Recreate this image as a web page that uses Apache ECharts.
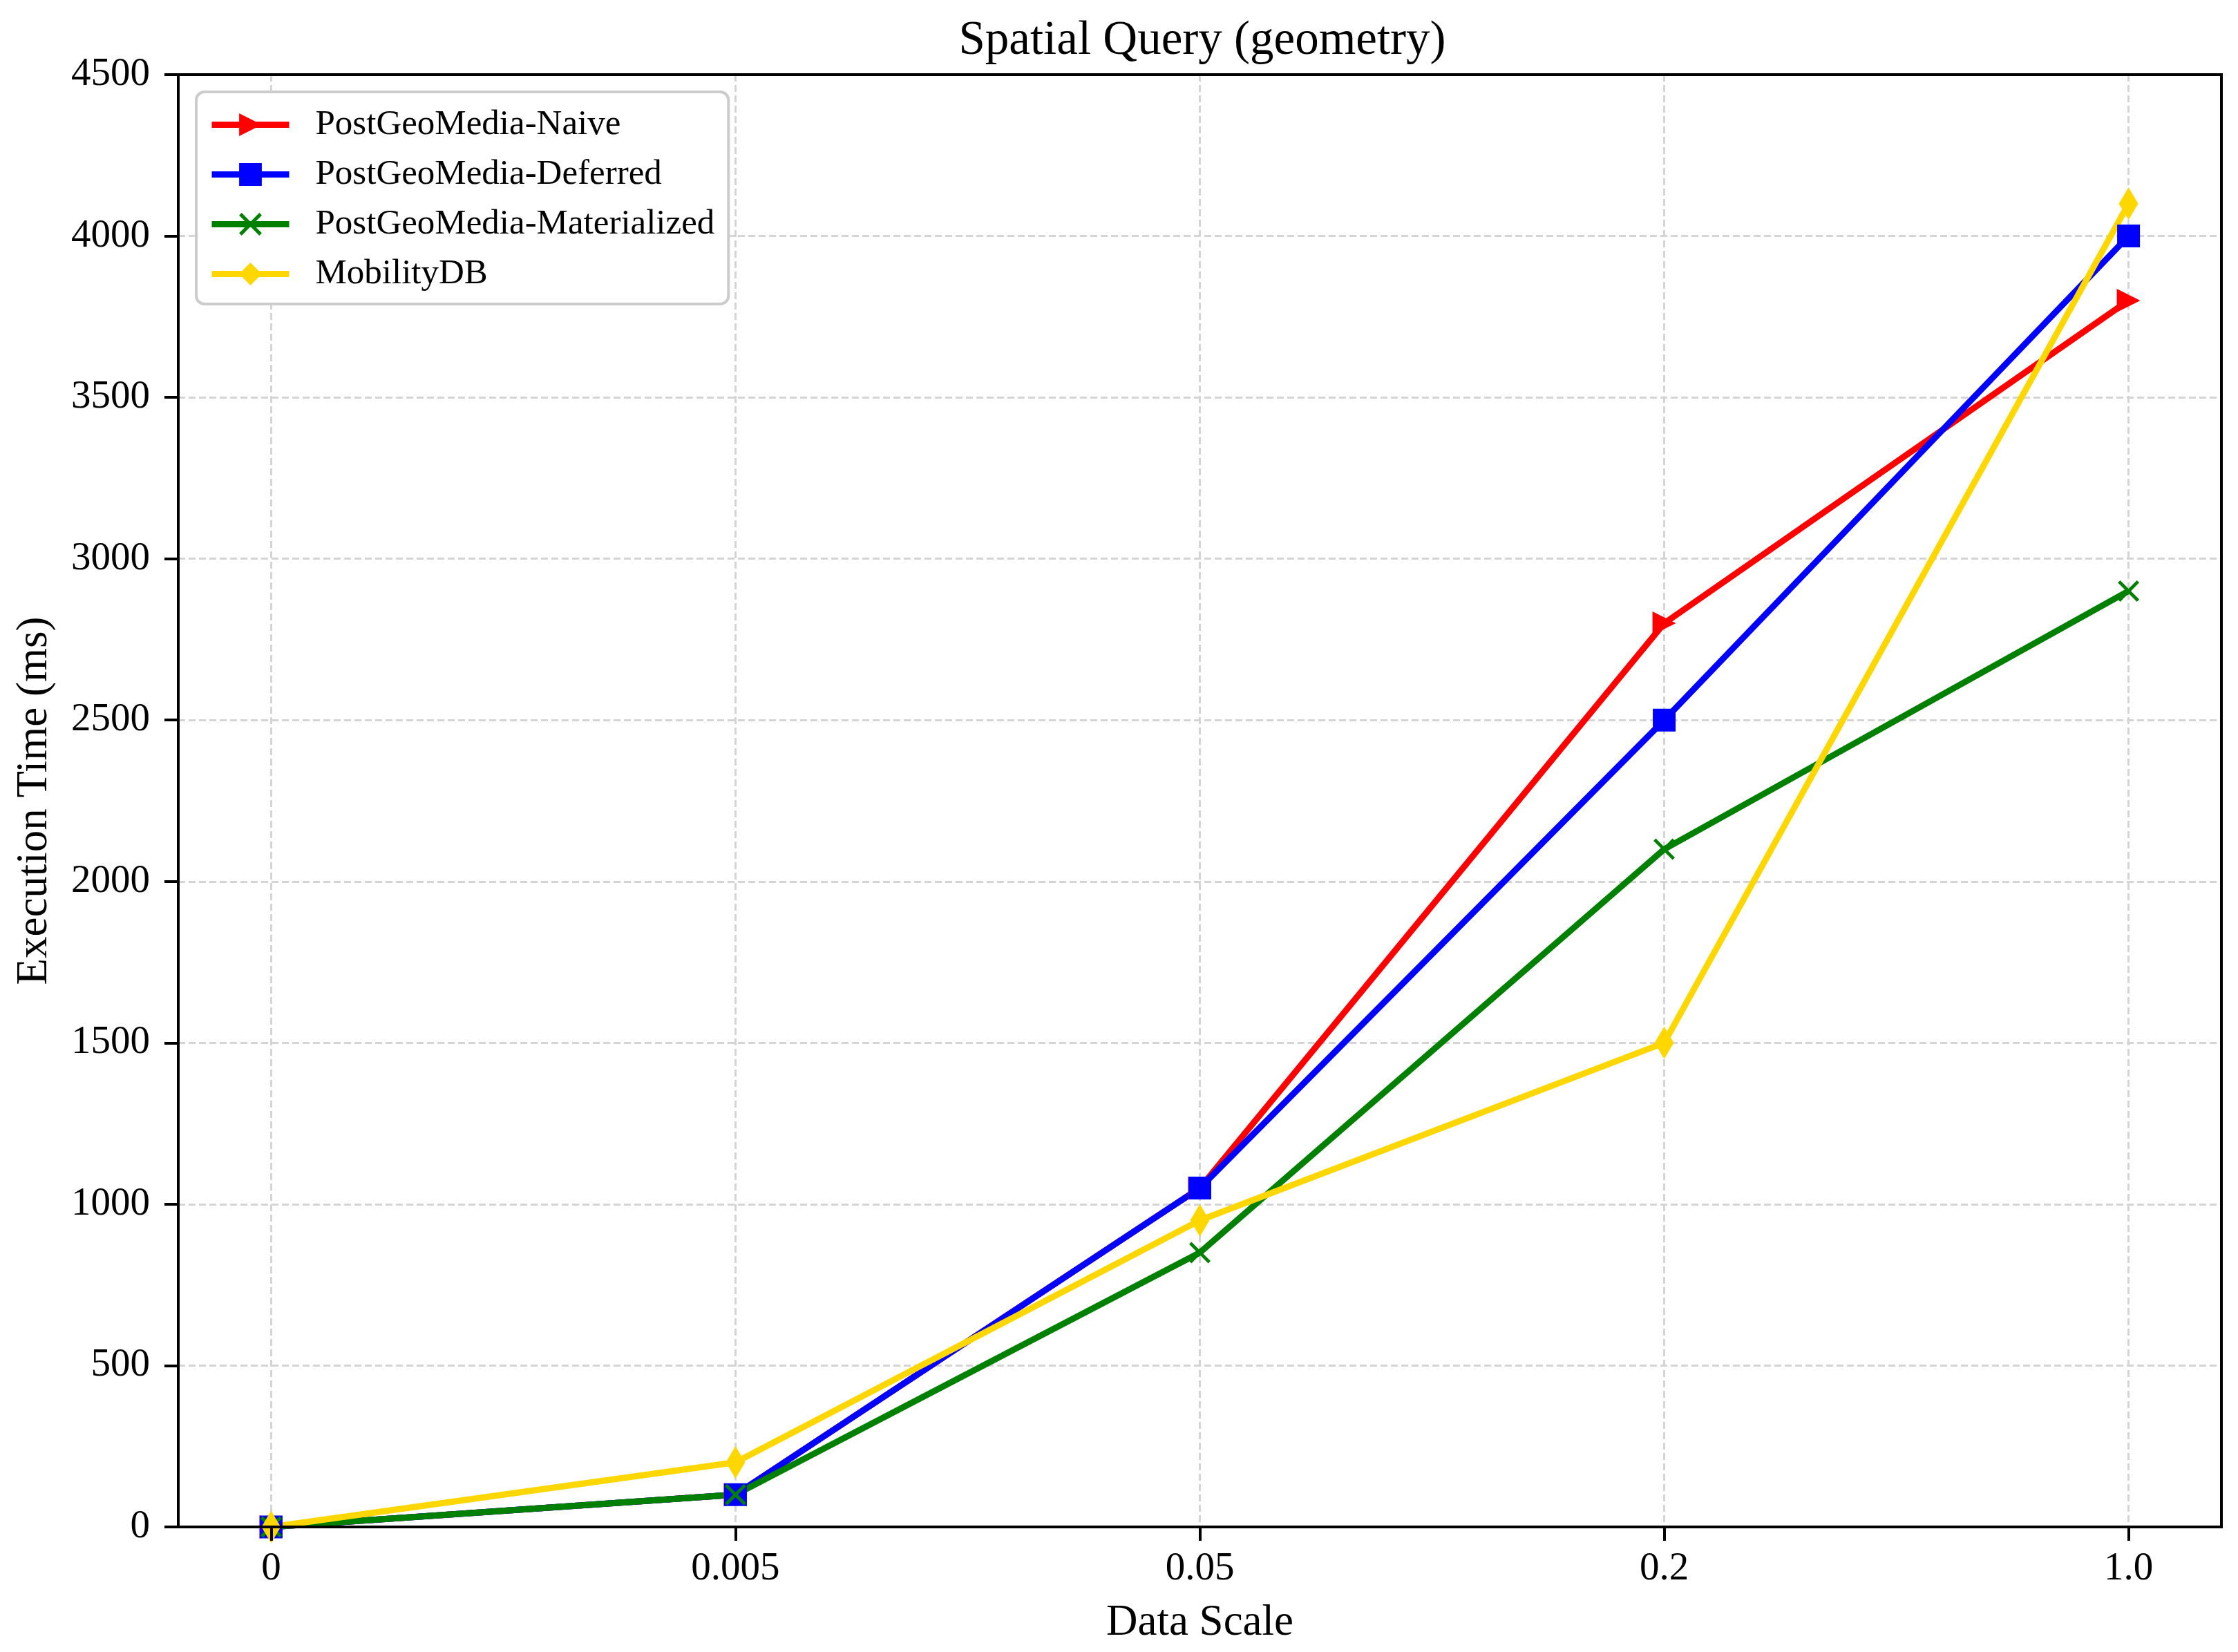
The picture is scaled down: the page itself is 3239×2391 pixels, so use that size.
<!DOCTYPE html>
<html>
<head>
<meta charset="utf-8">
<script src="https://cdn.jsdelivr.net/npm/echarts@6/dist/echarts.min.js"></script>
<style>
html,body{margin:0;padding:0;background:#fff;}
#chart{width:3239px;height:2391px;}
</style>
</head>
<body>
<div id="chart"></div>
<script>
const categories = ['0', '0.005', '0.05', '0.2', '1.0'];
const naive = [0, 100, 1050, 2800, 3800];
const deferred = [0, 100, 1050, 2500, 4000];
const materialized = [0, 100, 850, 2100, 2900];
const mobility = [0, 200, 950, 1500, 4100];
const seriesNames = ['PostGeoMedia-Naive', 'PostGeoMedia-Deferred', 'PostGeoMedia-Materialized', 'MobilityDB'];
const yMax = 4500;
const yStep = 500;

const FONT = '"Liberation Serif", "Times New Roman", serif';
const catIdx = categories.map((c, i) => i);
const toPairs = arr => arr.map((v, i) => [i, v]);
const xPath = 'path://M11,0L50,39L89,0L100,11L61,50L100,89L89,100L50,61L11,100L0,89L39,50L0,11Z';
const LW = 9;

const chart = echarts.init(document.getElementById('chart'), null, {renderer: 'canvas'});

function lineSeries(name, arr, color, symbol, size, rotate) {
  return {
    name: name, type: 'line', data: toPairs(arr),
    xAxisIndex: 0, yAxisIndex: 0,
    symbol: symbol, symbolSize: size, symbolRotate: rotate || 0,
    showAllSymbol: true, clip: true,
    lineStyle: {color: color, width: LW},
    itemStyle: {color: color},
    emphasis: {disabled: true},
    animation: false
  };
}

chart.setOption({
  animation: false,
  backgroundColor: '#ffffff',
  title: {
    text: 'Spatial Query (geometry)',
    left: 1735, top: 20, textAlign: 'center',
    textStyle: {fontFamily: FONT, fontSize: 69, fontWeight: 'normal', color: '#000'}
  },
  grid: {
    left: 258, right: 24, top: 108, bottom: 181,
    show: true, borderColor: '#000', borderWidth: 4,
    backgroundColor: 'transparent', z: 4
  },
  legend: {
    orient: 'vertical', left: 284, top: 133,
    padding: [22, 20, 18, 18],
    itemWidth: 112, itemHeight: 41, itemGap: 21,
    backgroundColor: '#ffffff', borderColor: '#cccccc', borderWidth: 4, borderRadius: 12,
    lineStyle: {width: LW},
    textStyle: {fontFamily: FONT, fontSize: 51, color: '#000', padding: [0, 0, 0, 33]},
    data: seriesNames,
    z: 6
  },
  graphic: [{
    type: 'rect', silent: true, z: 3,
    shape: {x: 262, y: 2212, width: 2950, height: 30},
    style: {fill: '#ffffff'}
  }],
  xAxis: [{
    type: 'value', min: -0.2, max: 4.2, position: 'top',
    axisLine: {show: false, onZero: false},
    axisTick: {show: false, customValues: catIdx},
    axisLabel: {show: false, customValues: catIdx},
    splitLine: {show: true, lineStyle: {color: '#d4d4d4', width: 3, type: [10, 5]}},
    z: 0
  }, {
    type: 'value', min: -0.2, max: 4.2, position: 'bottom',
    name: 'Data Scale', nameLocation: 'middle', nameGap: 108,
    nameTextStyle: {fontFamily: FONT, fontSize: 63, color: '#000'},
    axisLine: {show: false, onZero: false},
    axisTick: {show: true, length: 20, lineStyle: {color: '#000', width: 4}, customValues: catIdx},
    axisLabel: {
      show: true, customValues: catIdx, margin: 33,
      fontFamily: FONT, fontSize: 57, color: '#000',
      formatter: v => categories[Math.round(v)]
    },
    splitLine: {show: false},
    z: 4
  }],
  yAxis: [{
    type: 'value', min: 0, max: yMax, interval: yStep,
    name: 'Execution Time (ms)', nameLocation: 'middle', nameGap: 176, nameRotate: 90,
    nameTextStyle: {fontFamily: FONT, fontSize: 63, color: '#000'},
    axisLine: {show: false, onZero: false},
    axisTick: {show: true, length: 20, lineStyle: {color: '#000', width: 4}},
    axisLabel: {margin: 41, fontFamily: FONT, fontSize: 57, color: '#000', formatter: v => String(v)},
    splitLine: {show: true, lineStyle: {color: '#d4d4d4', width: 3, type: [10, 5]}}
  }],
  series: [
    lineSeries(seriesNames[0], naive, '#ff0000', 'triangle', [34, 34], -90),
    lineSeries(seriesNames[1], deferred, '#0000ff', 'rect', [33, 33], 0),
    lineSeries(seriesNames[2], materialized, '#008000', xPath, [31, 31], 0),
    lineSeries(seriesNames[3], mobility, '#ffd700', 'diamond', [28, 47], 0)
  ]
});
</script>
</body>
</html>
